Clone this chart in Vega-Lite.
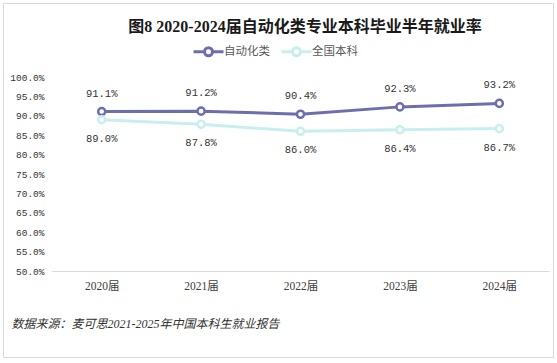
{
  "$schema": "https://vega.github.io/schema/vega-lite/v6.json",
  "autosize": "none",
  "width": 550,
  "height": 354,
  "padding": {"left": 3, "top": 3, "right": 4, "bottom": 6},
  "background": "#ffffff",
  "title": {
    "text": "图8  2020-2024届自动化类专业本科毕业半年就业率",
    "anchor": "middle",
    "dx": 27,
    "dy": 36,
    "font": "Liberation Serif, Noto Sans CJK SC",
    "fontSize": 16,
    "fontWeight": "bold",
    "color": "#1a1a1a"
  },
  "config": {
    "view": {"stroke": "#d9d9d9", "strokeWidth": 1},
    "axis": {"grid": false, "ticks": false}
  },
  "data": {
    "values": [
      {"year": "2020届", "series": "自动化类", "value": 0.911},
      {"year": "2021届", "series": "自动化类", "value": 0.912},
      {"year": "2022届", "series": "自动化类", "value": 0.904},
      {"year": "2023届", "series": "自动化类", "value": 0.923},
      {"year": "2024届", "series": "自动化类", "value": 0.932},
      {"year": "2020届", "series": "全国本科", "value": 0.890},
      {"year": "2021届", "series": "全国本科", "value": 0.878},
      {"year": "2022届", "series": "全国本科", "value": 0.860},
      {"year": "2023届", "series": "全国本科", "value": 0.864},
      {"year": "2024届", "series": "全国本科", "value": 0.867}
    ]
  },
  "encoding": {
    "x": {
      "field": "year",
      "type": "ordinal",
      "sort": null,
      "scale": {"type": "point", "padding": 0.5, "range": [49, 546]},
      "axis": {
        "title": "数据来源：麦可思2021-2025年中国本科生就业报告",
        "titleAnchor": "start",
        "titleAlign": "left",
        "titleX": 8,
        "titleY": 52,
        "titleBaseline": "middle",
        "titleFont": "Liberation Serif, Noto Sans CJK SC",
        "titleFontStyle": "italic",
        "titleFontWeight": "normal",
        "titleFontSize": 12,
        "titleColor": "#333333",
        "offset": -86,
        "labelAngle": 0,
        "labelPadding": 9,
        "labelFont": "Liberation Serif, Noto Sans CJK SC",
        "labelFontSize": 11.5,
        "labelColor": "#404040",
        "domainColor": "#d9d9d9",
        "domainWidth": 1
      }
    },
    "y": {
      "field": "value",
      "type": "quantitative",
      "scale": {"domain": [0.5, 1.0], "range": [268, 74], "nice": false, "zero": false},
      "axis": {
        "title": null,
        "domain": false,
        "offset": -43,
        "labelPadding": 2,
        "values": [0.5, 0.55, 0.6, 0.65, 0.7, 0.75, 0.8, 0.85, 0.9, 0.95, 1.0],
        "format": ".1%",
        "labelFont": "Liberation Mono",
        "labelFontSize": 9.5,
        "labelColor": "#333333"
      }
    }
  },
  "layer": [
    {
      "mark": {"type": "line", "strokeWidth": 3},
      "encoding": {
        "color": {
          "field": "series",
          "type": "nominal",
          "sort": ["自动化类", "全国本科"],
          "scale": {"domain": ["自动化类", "全国本科"], "range": ["#6E6EAE", "#C9EEEE"]},
          "legend": {
            "title": null,
            "orient": "none",
            "direction": "horizontal",
            "legendX": 194,
            "legendY": 37,
            "symbolType": "M-1.5,0H-0.4M0.4,0H1.5M-0.4,0A0.4,0.4 0 1,0 0.4,0A0.4,0.4 0 1,0 -0.4,0",
            "symbolSize": 400,
            "symbolStrokeWidth": 3,
            "symbolFillColor": "#ffffff",
            "labelFont": "Noto Sans CJK SC",
            "labelFontSize": 11.5,
            "labelColor": "#595959",
            "columnPadding": 5,
            "labelOffset": 4
          }
        }
      }
    },
    {
      "mark": {"type": "point", "filled": true, "fill": "#ffffff", "size": 50, "strokeWidth": 2.5, "opacity": 1},
      "encoding": {
        "stroke": {
          "field": "series",
          "type": "nominal",
          "scale": {"domain": ["自动化类", "全国本科"], "range": ["#6E6EAE", "#C9EEEE"]},
          "legend": null
        }
      }
    },
    {
      "transform": [{"filter": "datum.series === '自动化类'"}],
      "mark": {"type": "text", "dy": -18, "font": "Liberation Mono", "fontSize": 10.5, "color": "#333333"},
      "encoding": {"text": {"field": "value", "type": "quantitative", "format": ".1%"}}
    },
    {
      "transform": [{"filter": "datum.series === '全国本科'"}],
      "mark": {"type": "text", "dy": 19, "font": "Liberation Mono", "fontSize": 10.5, "color": "#333333"},
      "encoding": {"text": {"field": "value", "type": "quantitative", "format": ".1%"}}
    }
  ]
}
